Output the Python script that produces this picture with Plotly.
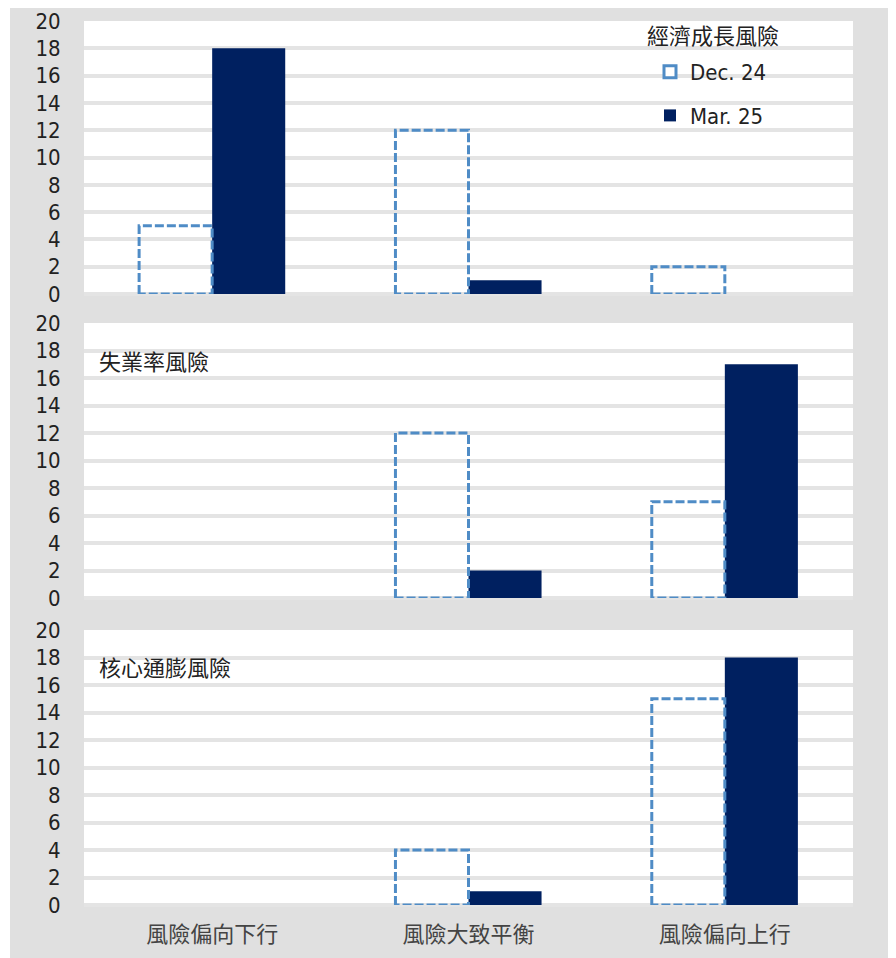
import plotly.graph_objects as go

categories = ["風險偏向下行", "風險大致平衡", "風險偏向上行"]
panel_titles = ["經濟成長風險", "失業率風險", "核心通膨風險"]
series_names = ["Dec. 24", "Mar. 25"]

dec24_growth = [5, 12, 2]
mar25_growth = [18, 1, 0]
dec24_unemp = [0, 12, 7]
mar25_unemp = [0, 2, 17]
dec24_infl = [0, 4, 15]
mar25_infl = [0, 1, 18]

y_ticks = list(range(0, 21, 2))

panels = [(dec24_growth, mar25_growth), (dec24_unemp, mar25_unemp), (dec24_infl, mar25_infl)]

W, H = 896, 958
BG = "#e0e0e0"
GRID = "#e4e4e4"
DEC_COLOR = "#4f8cc6"
MAR_COLOR = "#002060"
NUM_FONT = "Liberation Sans Narrow, DejaVu Sans Condensed, Noto Sans CJK TC, sans-serif"
CJK_FONT = "Noto Sans CJK TC, Liberation Sans Narrow, sans-serif"
BW = 0.285

# pixel geometry of plot areas (top, bottom) in figure coordinates
pix = [(13, 286), (315, 590), (622, 897)]
x_dom = [76 / W, 845 / W]

fig = go.Figure()

for p, (dec, mar) in enumerate(panels):
    ax = "" if p == 0 else str(p + 1)
    xs = [i for i in range(len(categories))]
    fig.add_trace(go.Bar(
        x=xs, y=mar, width=BW, offset=0,
        marker=dict(color=MAR_COLOR, line=dict(width=0)),
        name=series_names[1], legendgroup="mar", showlegend=(p == 0),
        legendrank=2,
        xaxis="x" + ax, yaxis="y" + ax, hoverinfo="skip",
    ))
    ox, oy = [], []
    for i, v in enumerate(dec):
        if v > 0:
            ox += [i - BW, i - BW, i, i, i - BW, None]
            oy += [0, v, v, 0, 0, None]
    fig.add_trace(go.Scatter(
        x=ox, y=oy, mode="lines",
        line=dict(color=DEC_COLOR, width=3, dash="9px,3px"),
        showlegend=False, xaxis="x" + ax, yaxis="y" + ax, hoverinfo="skip",
    ))

# legend entry for Dec. 24
fig.add_trace(go.Bar(
    x=[None], y=[None], name=series_names[0], legendgroup="dec", legendrank=1,
    marker=dict(color="white", line=dict(color=DEC_COLOR, width=3)),
    xaxis="x", yaxis="y",
))

layout = dict(
    width=W, height=H,
    paper_bgcolor=BG, plot_bgcolor="white",
    margin=dict(l=0, r=0, t=0, b=0, autoexpand=False),
    barmode="overlay",
    showlegend=True,
    legend=dict(
        font=dict(family=NUM_FONT, size=22, color="#222"),
        x=642 / W, y=1 - 43 / H, xanchor="left", yanchor="top",
        bgcolor="rgba(0,0,0,0)", tracegroupgap=12, itemwidth=30,
    ),
    shapes=[dict(type="rect", xref="paper", yref="paper", x0=0, x1=2 / W, y0=0, y1=1,
                 fillcolor="white", line=dict(width=0), layer="below")],
    annotations=[],
)

for p in range(3):
    ax = "" if p == 0 else str(p + 1)
    top, bot = pix[p]
    layout["xaxis" + ax] = dict(
        domain=x_dom, range=[-0.5, 2.5], anchor="y" + ax, automargin=False,
        showgrid=False, zeroline=False, showline=False,
        tickvals=[0, 1, 2], ticktext=categories if p == 2 else ["", "", ""],
        showticklabels=(p == 2), ticks="outside", ticklen=10, tickcolor="rgba(0,0,0,0)",
        tickfont=dict(family=CJK_FONT, size=22, color="#444"),
    )
    layout["yaxis" + ax] = dict(
        domain=[1 - bot / H, 1 - top / H], range=[0, 20], anchor="x" + ax, automargin=False,
        tickvals=y_ticks, showgrid=True, gridcolor=GRID, gridwidth=4,
        zeroline=True, zerolinecolor=GRID, zerolinewidth=4, showline=False,
        ticks="outside", ticklen=18, tickcolor="rgba(0,0,0,0)",
        ticklabeloverflow="allow",
        tickfont=dict(family=NUM_FONT, size=22, color="#222"),
    )

for p, xpx, ypx in [(0, 637, 26), (1, 89, 352), (2, 89, 658)]:
    layout["annotations"].append(dict(
        text=panel_titles[p], xref="paper", yref="paper",
        x=xpx / W, y=1 - ypx / H, xanchor="left", yanchor="middle",
        showarrow=False, font=dict(family=CJK_FONT, size=22, color="#222"),
    ))

fig.update_layout(**layout)
fig.write_html("out.html")
